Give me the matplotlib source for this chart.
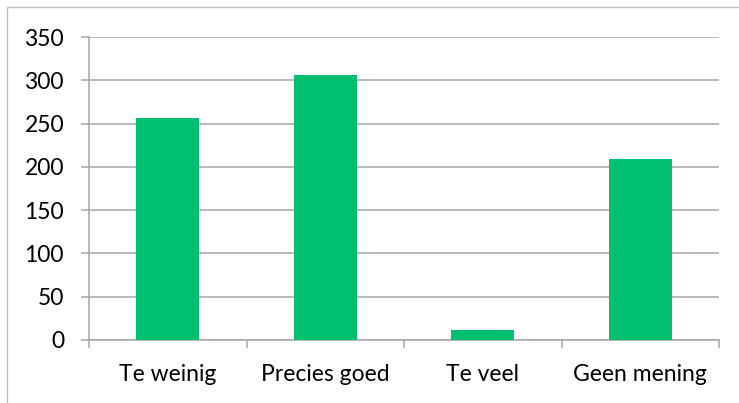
import matplotlib
matplotlib.use('Agg')
import matplotlib.pyplot as plt
from matplotlib.patches import Rectangle
import numpy as np

categories = ['Te weinig', 'Precies goed', 'Te veel', 'Geen mening']
values = [256, 306, 12, 209]
y_ticks = [0, 50, 100, 150, 200, 250, 300, 350]

plt.rcParams['font.family'] = ['Lato', 'DejaVu Sans']

fig = plt.figure(figsize=(7.39, 4.03), dpi=100)
ax = fig.add_axes([89 / 739, 1 - 340 / 403, 630 / 739, 303 / 403])

grid_color = '#A6A6A6'
x = np.arange(len(categories))
ax.bar(x, values, width=0.4, color='#00BF6F', zorder=3)

ax.set_xlim(-0.5, len(categories) - 0.5)
ax.set_ylim(0, 350)
ax.set_yticks(y_ticks)
ax.set_yticklabels([str(v) for v in y_ticks], fontsize=16.5)
ax.yaxis.grid(True, color=grid_color, linewidth=1.1, zorder=0)

ax.set_xticks(x)
ax.set_xticklabels(categories, fontsize=16.5)
ax.set_xticks(np.arange(len(categories) + 1) - 0.5, minor=True)
ax.tick_params(axis='x', which='major', length=0, pad=17)
ax.tick_params(axis='x', which='minor', length=6, color=grid_color, width=1.1)
ax.tick_params(axis='y', length=6, color=grid_color, width=1.1, pad=12)

for side in ['top', 'right']:
    ax.spines[side].set_visible(False)
for side in ['left', 'bottom']:
    ax.spines[side].set_color(grid_color)
    ax.spines[side].set_linewidth(1.1)

# chart border, only top and left are inside the image
fig.patches.append(Rectangle((7 / 739, -0.1), 2, (403 - 7) / 403 + 0.1,
                             transform=fig.transFigure, fill=False,
                             edgecolor='#BFBFBF', linewidth=1.0))

fig.savefig('out.png', dpi=100)
